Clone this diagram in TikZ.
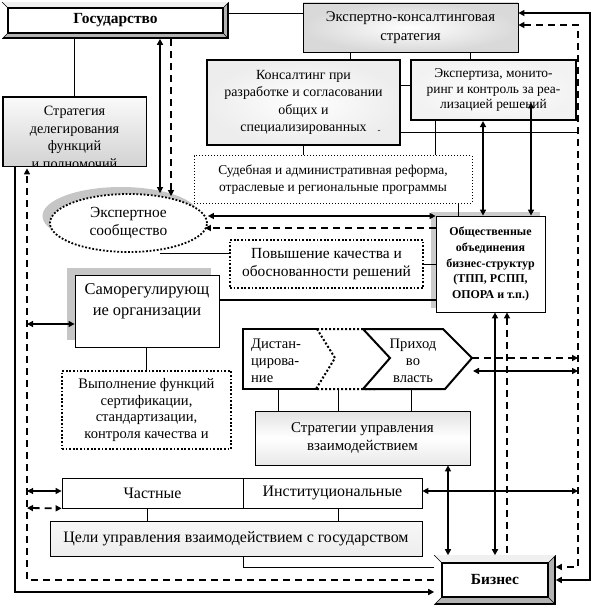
\documentclass[tikz,border=0pt]{standalone}
\usepackage{fontspec}
\setmainfont{Liberation Serif}
\usetikzlibrary{arrows.meta,shapes.geometric,calc}
\tikzset{
  tri/.tip={Triangle[length=6bp,width=6bp]},
  conn/.style={line width=0.8bp},
  thk/.style={line width=2bp},
  arr/.style={line width=1.8bp,-{tri}},
  darr/.style={line width=1.8bp,{tri}-{tri}},
  dsh/.style={line width=1.8bp,dash pattern=on 7bp off 5bp},
  box/.style={draw,line width=0.8bp,inner sep=0pt,align=center},
  bbox/.style={box,line width=2.2bp},
  dotbox/.style={box,line width=1.8bp,dash pattern=on 1.8bp off 1.8bp},
  thdotbox/.style={box,line width=1bp,dash pattern=on 1bp off 2bp},
  txt/.style={inner sep=0pt,align=center},
  fa/.style={font=\fontsize{14}{17.3}\selectfont},
  fb/.style={font=\fontsize{13.5}{15.5}\selectfont},
  shadowfill/.style={fill=gray!45,draw=none},
}
\begin{document}
\begin{tikzpicture}[x=1bp,y=-1bp]
\useasboundingbox (0,0) rectangle (592,607);
% route coordinates
\coordinate (L1) at (15,0);
\coordinate (L2) at (27,0);
\coordinate (R1) at (590,0);
\coordinate (R2) at (578,0);

% ---------- Gosudarstvo (bevel box)
\node[draw,line width=1.6bp,fill=gray!60,minimum width=225bp,minimum height=35bp,inner sep=0pt] (gos) at (115.5,20.5) {};
\fill[gray!12] (gos.north west) -- (gos.north east) -- ([shift={(-6,6)}]gos.north east) -- ([shift={(6,6)}]gos.north west) -- cycle;
\fill[white] (gos.north west) -- ([shift={(6,6)}]gos.north west) -- ([shift={(6,-6)}]gos.south west) -- (gos.south west) -- cycle;
\draw[line width=0.6bp] (gos.north west) -- ++(6,6) (gos.north east) -- ++(-6,6) (gos.south west) -- ++(6,-6) (gos.south east) -- ++(-6,-6);
\draw[line width=1.6bp,fill=white] ([shift={(6,6)}]gos.north west) rectangle ([shift={(-6,-6)}]gos.south east);
\node[txt,font=\bfseries\fontsize{15.5}{17}\selectfont] (gost) at (gos) {Государство};

% ---------- Biznes (bevel box)
\node[draw,line width=1.6bp,fill=gray!60,minimum width=120bp,minimum height=48bp,inner sep=0pt] (biz) at (495,580) {};
\fill[gray!12] (biz.north west) -- (biz.north east) -- ([shift={(-8,8)}]biz.north east) -- ([shift={(8,8)}]biz.north west) -- cycle;
\fill[white] (biz.north west) -- ([shift={(8,8)}]biz.north west) -- ([shift={(8,-8)}]biz.south west) -- (biz.south west) -- cycle;
\draw[line width=0.6bp] (biz.north west) -- ++(8,8) (biz.north east) -- ++(-8,8) (biz.south west) -- ++(8,-8) (biz.south east) -- ++(-8,-8);
\draw[line width=1.6bp,fill=white] ([shift={(8,8)}]biz.north west) rectangle ([shift={(-8,-8)}]biz.south east);
\node[txt,font=\bfseries\fontsize{15.5}{17}\selectfont] (bizt) at (biz) {Бизнес};

% ---------- top boxes
\node[box,minimum width=215bp,minimum height=49bp,inner color=white,outer color=gray!30,font=\fontsize{14.8}{19}\selectfont] (eks) at (410.5,27.5) {Экспертно-консалтинговая\\стратегия};
\node[box,minimum width=143bp,minimum height=69bp,top color=gray!4,bottom color=gray!35] (strd) at (74.5,131.5) {};
\begin{scope}
\clip (strd.north west) rectangle (strd.south east);
\node[txt,font=\fontsize{14.3}{17.5}\selectfont] (strdt) at (74.5,137.5) {Стратегия\\делегирования\\функций\\и полномочий};
\end{scope}
\draw[line width=0.8bp] (strd.north west) rectangle (strd.south east);

\node[bbox,fa,minimum width=193bp,minimum height=85bp,inner color=white,outer color=gray!14] (kons) at (303.5,102.5) {Консалтинг при\\разработке и согласовании\\общих и\\специализированных};
\node[txt,font=\fontsize{9}{9}\selectfont] (kmark) at (379,133) {˘};
\node[bbox,fb,minimum width=165bp,minimum height=60bp,inner color=white,outer color=gray!10] (expz) at (493.5,90) {Экспертиза, монито-\\ринг и контроль за реа-\\лизацией решений};
\node[thdotbox,font=\fontsize{13.5}{16.5}\selectfont,minimum width=278bp,minimum height=47bp,fill=white] (sud) at (333,179.5) {Судебная и административная реформа,\\отраслевые и региональные программы};

% ---------- expert community
\node[ellipse,shadowfill,minimum width=157bp,minimum height=58bp] (ecoms) at (121,216) {};
\node[ellipse,draw,fill=white,line width=1.8bp,dash pattern=on 1.8bp off 1.8bp,minimum width=157bp,minimum height=58bp,inner sep=0pt,align=center,font=\fontsize{15.5}{18}\selectfont] (ecom) at (128.5,223) {Экспертное\\сообщество};

% ---------- public associations
\fill[gray!40] (431,212) rectangle (540,308);
\node[box,fill=white,minimum width=109bp,minimum height=96bp,font=\bfseries\fontsize{12}{16}\selectfont] (ood) at (490.5,264) {Общественные\\объединения\\бизнес-структур\\(ТПП, РСПП,\\ОПОРА и т.п.)};

\node[dotbox,minimum width=193bp,minimum height=48bp,fill=white,font=\fontsize{15.5}{18}\selectfont] (pov) at (326.5,264) {Повышение качества и\\обоснованности решений};

% ---------- self-regulating
\fill[gray!45] (67,268) rectangle (211,340);
\node[box,fill=white,minimum width=144bp,minimum height=72bp] (samo) at (147,311) {};
\node[txt,font=\fontsize{16.5}{21}\selectfont] (samot) at (147,301) {Саморегулирующ\\ие организации};

\node[dotbox,minimum width=169bp,minimum height=78bp,fill=white,font=\fontsize{14.6}{17}\selectfont] (vyp) at (146.5,410) {Выполнение функций\\сертификации,\\стандартизации,\\контроля качества и};

% ---------- chevrons
\coordinate (cht) at (472,358);
\draw[line width=2bp] (317,329) -- (243,329) -- (243,389) -- (317,389);
\draw[line width=2bp,dash pattern=on 2bp off 2bp] (317,329) -- (363,329) (317,329) -- (335,358) -- (316,389) (317,389) -- (376,389);
\draw[line width=2bp,line join=miter] (363,329) -- (443,329) -- (cht) -- (445,389) -- (363,389) (363,329) -- (390,358) -- (363,389);
\node[txt,align=left,anchor=west,font=\fontsize{14.6}{17}\selectfont] (dist) at (251,361) {Дистан-\\цирова-\\ние};
\node[txt,font=\fontsize{14.6}{17}\selectfont] (prih) at (413,361) {Приход\\во\\власть};

% ---------- strategies
\node[box,minimum width=215bp,minimum height=54bp,top color=gray!22,bottom color=gray!18,middle color=white,font=\fontsize{15}{17.5}\selectfont] (stru) at (362.5,438) {Стратегии управления\\взаимодействием};

\node[box,minimum width=181bp,minimum height=30bp,font=\fontsize{16}{17}\selectfont] (chast) at (152.5,493) {Частные};
\node[box,minimum width=179bp,minimum height=30bp,font=\fontsize{16}{17}\selectfont] (inst) at (332.5,493) {Институциональные};
\node[box,minimum width=372bp,minimum height=35bp,top color=gray!6,bottom color=gray!14,font=\fontsize{16}{17}\selectfont] (celi) at (236,538.5) {Цели управления взаимодействием с государством};

% ---------- thin connectors
\draw[conn] (gos.east |- 0,13) -- (eks.west |- 0,13);
\draw[conn] (strd.north |- gos.south) -- (strd.north);
\draw[conn] (eks.south -| 350,0) -- (kons.north -| 350,0);
\draw[conn] (eks.south -| 470,0) -- (expz.north -| 470,0);
\draw[conn] (kons.east |- 0,85) -- (expz.west |- 0,85);
\draw[conn] (expz.east |- 0,85) -- (R2 |- 0,85);
\draw[conn] (kons.east |- 0,132) -- (R2 |- 0,132);
\draw[conn] (kons.south -| 303,0) -- (sud.north -| 303,0);
\draw[conn] (expz.south -| 435,0) -- (sud.north -| 435,0);
\draw[conn] (sud.south -| 458,0) -- (ood.north -| 458,0);
\draw[conn] (ecom.south -| 160,0) -- (pov.west |- ecom.south);
\draw[conn] (pov.east) -- (ood.west |- pov.east);
\draw[thk] (samo.east |- 0,300) -- (ood.west |- 0,300);
\draw[conn] (samo.south) -- (vyp.north |- samo.south) -- (vyp.north);
\draw[conn] (278,389) -- (stru.north -| 278,0);
\draw[conn] (338,389) -- (stru.north -| 338,0);
\draw[conn] (411,389) -- (stru.north -| 411,0);
\draw[conn] (chast.south -| 147,0) -- (celi.north -| 147,0);
\draw[conn] (inst.south -| 338,0) -- (celi.north -| 338,0);
\draw[conn] (celi.south -| 243,0) -- (243,567) -- (biz.west |- 0,567);

% ---------- arrows
\draw[darr] (gos.south -| 160,0) -- (ecom.north -| 160,0);
\draw[dsh,-{tri}] (gos.south -| 171,0) -- ([yshift=-3bp]ecom.north -| 171,0);
\draw[darr] (ecom.east |- 0,216) -- (ood.west |- 0,216);
\draw[dsh,-{tri}] (ood.west |- 0,228) -- ([xshift=-3bp]ecom.east |- 0,228);
\draw[darr] (expz.south -| 483,0) -- (ood.north -| 483,0);
\draw[darr] (kons.east -| 531,0 |- 0,132) -- (ood.north -| 531,0);
\draw[darr] (ood.south -| 495,0) -- (biz.north -| 495,0);
\draw[dsh,{tri}-] (ood.south -| 507,0) -- ([yshift=2bp]biz.north -| 507,0);
\draw[darr] (stru.south -| 448,0) -- (biz.north -| 448,0);
\draw[dsh,-{tri}] (cht) -- (R2 |- cht);
\draw[darr] (473,371) -- (R2 |- 0,371);
\draw[darr] (inst.east |- 0,491) -- (R2 |- 0,491);
\draw[line width=1.2bp,{tri}-{tri}] (L2 |- 0,324) -- (samo.west |- 0,324);
\draw[line width=1.1bp,{tri}-{tri}] (L2 |- 0,491) -- (chast.west |- 0,491);
\draw[dsh,{tri}-{tri}] (L2 |- 0,508) -- (chast.south west);

% long routes
\draw[line width=2.2bp,{tri}-{tri}] (eks.east |- 0,13) -- (R1 |- 0,13) -- (R1 |- 0,580) -- (biz.east |- 0,580);
\draw[dsh,{tri}-{tri}] (eks.east |- 0,25) -- (R2 |- 0,25) -- (R2 |- 0,567) -- (biz.east |- 0,567);
\draw[line width=2.2bp,-{tri}] (strd.south -| L1) -- (L1 |- 0,592) -- (biz.west |- 0,592);
\draw[dsh,-{tri}] (biz.west |- 0,580) -- (L2 |- 0,580) -- ([yshift=-2bp]strd.south -| L2);
\end{tikzpicture}
\end{document}
